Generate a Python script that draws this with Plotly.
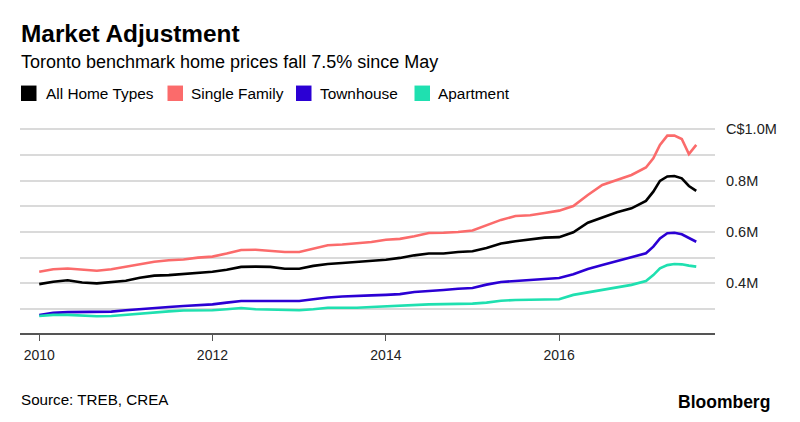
import plotly.graph_objects as go

# ---- data (C$ millions) ----
dates = [
    "2010-01-01", "2010-03-01", "2010-05-01", "2010-07-01", "2010-09-01", "2010-11-01",
    "2011-01-01", "2011-03-01", "2011-05-01", "2011-07-01", "2011-09-01", "2011-11-01",
    "2012-01-01", "2012-03-01", "2012-05-01", "2012-07-01", "2012-09-01", "2012-11-01",
    "2013-01-01", "2013-03-01", "2013-05-01", "2013-07-01", "2013-09-01", "2013-11-01",
    "2014-01-01", "2014-03-01", "2014-05-01", "2014-07-01", "2014-09-01", "2014-11-01",
    "2015-01-01", "2015-03-01", "2015-05-01", "2015-07-01", "2015-09-01", "2015-11-01",
    "2016-01-01", "2016-03-01", "2016-05-01", "2016-07-01", "2016-09-01", "2016-11-01",
    "2017-01-01", "2017-02-01", "2017-03-01", "2017-04-01", "2017-05-01", "2017-06-01",
    "2017-07-01", "2017-08-01",
]

all_home_types = [
    0.397, 0.406, 0.412, 0.403, 0.400, 0.404,
    0.410, 0.422, 0.430, 0.432, 0.436, 0.440,
    0.445, 0.453, 0.464, 0.465, 0.464, 0.457,
    0.457, 0.468, 0.475, 0.479, 0.483, 0.488,
    0.492, 0.499, 0.509, 0.516, 0.516, 0.522,
    0.525, 0.538, 0.555, 0.564, 0.571, 0.578,
    0.580, 0.599, 0.636, 0.656, 0.677, 0.692,
    0.721, 0.757, 0.799, 0.816, 0.818, 0.809,
    0.779, 0.760,
]

single_family = [
    0.445, 0.455, 0.458, 0.453, 0.449, 0.455,
    0.465, 0.476, 0.484, 0.490, 0.493, 0.500,
    0.504, 0.516, 0.530, 0.531, 0.527, 0.522,
    0.522, 0.535, 0.548, 0.551, 0.555, 0.561,
    0.570, 0.573, 0.583, 0.596, 0.597, 0.600,
    0.606, 0.626, 0.647, 0.662, 0.665, 0.674,
    0.683, 0.701, 0.744, 0.783, 0.803, 0.822,
    0.851, 0.887, 0.939, 0.975, 0.975, 0.962,
    0.903, 0.939,
]

townhouse = [
    0.277, 0.285, 0.288, 0.288, 0.290, 0.290,
    0.295, 0.300, 0.304, 0.308, 0.312, 0.315,
    0.318, 0.325, 0.331, 0.331, 0.331, 0.331,
    0.331, 0.338, 0.345, 0.349, 0.350, 0.353,
    0.355, 0.358, 0.366, 0.369, 0.374, 0.379,
    0.382, 0.395, 0.405, 0.409, 0.413, 0.416,
    0.421, 0.435, 0.456, 0.471, 0.487, 0.500,
    0.517, 0.543, 0.575, 0.595, 0.597, 0.591,
    0.578, 0.562,
]

apartment = [
    0.273, 0.277, 0.277, 0.274, 0.272, 0.273,
    0.278, 0.282, 0.287, 0.291, 0.294, 0.295,
    0.295, 0.299, 0.304, 0.299, 0.297, 0.297,
    0.295, 0.299, 0.305, 0.305, 0.305, 0.308,
    0.311, 0.314, 0.317, 0.318, 0.319, 0.319,
    0.321, 0.325, 0.332, 0.335, 0.336, 0.338,
    0.338, 0.355, 0.365, 0.374, 0.383, 0.394,
    0.409, 0.432, 0.458, 0.471, 0.475, 0.474,
    0.469, 0.465,
]

series_names = ["All Home Types", "Single Family", "Townhouse", "Apartment"]
series_values = [all_home_types, single_family, townhouse, apartment]
series_colors = ["#000000", "#fb6b6b", "#2b00d4", "#1fe0b0"]

y_tickvals = [0.3, 0.4, 0.5, 0.6, 0.7, 0.8, 0.9, 1.0]
y_ticktext = ["", "0.4M", "", "0.6M", "", "0.8M", "", "C$1.0M"]
x_tickvals = ["2010-01-01", "2012-01-01", "2014-01-01", "2016-01-01"]
x_ticktext = ["2010", "2012", "2014", "2016"]

FONT = "Liberation Sans, Arial, Helvetica, sans-serif"

# ---- figure geometry (pixels) ----
W, H = 800, 422
ML, MR, MT, MB = 20, 85, 120, 88.7
PW, PH = W - ML - MR, H - MT - MB


def px(x):
    return (x - ML) / PW


def py(y):
    return (H - MB - y) / PH


fig = go.Figure()
for name, vals, col in zip(series_names, series_values, series_colors):
    fig.add_trace(go.Scatter(
        x=dates, y=vals, name=name, mode="lines",
        line=dict(color=col, width=2.6), showlegend=False,
        hovertemplate="%{x|%b %Y}: %{y:.3f}M<extra>" + name + "</extra>",
    ))

annotations = [
    dict(text="<b>Market Adjustment</b>", x=px(19), y=py(33), xanchor="left",
         yanchor="middle", font=dict(size=24.4, color="#000")),
    dict(text="Toronto benchmark home prices fall 7.5% since May", x=px(19), y=py(62),
         xanchor="left", yanchor="middle", font=dict(size=18, color="#000")),
    dict(text="Source: TREB, CREA", x=px(19), y=py(400), xanchor="left",
         yanchor="middle", font=dict(size=15.2, color="#000")),
    dict(text="<b>Bloomberg</b>", x=px(772), y=py(402), xanchor="right",
         yanchor="middle", font=dict(size=17.5, color="#000")),
]

shapes = []
legend_sq_x = [21, 167.5, 296, 414.5]
legend_txt_x = [46, 190.5, 320, 437.5]
for name, col, sx, tx in zip(series_names, series_colors, legend_sq_x, legend_txt_x):
    shapes.append(dict(type="rect", xref="paper", yref="paper",
                       x0=px(sx), x1=px(sx + 15.5), y0=py(101), y1=py(85.5),
                       fillcolor=col, line=dict(width=0)))
    annotations.append(dict(text=name, x=px(tx - 2), y=py(93.5), xanchor="left",
                            yanchor="middle", font=dict(size=15.4, color="#000")))

for a in annotations:
    a.update(xref="paper", yref="paper", showarrow=False)

fig.update_layout(
    width=W, height=H,
    margin=dict(l=ML, r=MR, t=MT, b=MB, pad=0),
    paper_bgcolor="#ffffff", plot_bgcolor="#ffffff",
    font=dict(family=FONT, color="#000"),
    annotations=annotations, shapes=shapes,
    showlegend=False,
    xaxis=dict(
        type="date", range=["2009-10-12", "2017-10-19"],
        tickvals=x_tickvals, ticktext=x_ticktext,
        showgrid=False, zeroline=False,
        showline=True, linecolor="#555555", linewidth=1.5,
        ticks="outside", ticklen=6, tickwidth=1.2, tickcolor="#555555",
        tickfont=dict(size=14, color="#222"),
        ticklabelstandoff=2,
        fixedrange=True,
    ),
    yaxis=dict(
        side="right", range=[0.2066, 1.036],
        tickvals=y_tickvals, ticktext=y_ticktext,
        showgrid=True, gridcolor="#dadada", gridwidth=1.6,
        zeroline=False, showline=False, ticks="",
        ticklabelstandoff=10,
        tickfont=dict(size=14.5, color="#222"),
        fixedrange=True,
    ),
)

fig.write_html("out.html", config={"displayModeBar": False},
               post_script="document.body.style.margin='0';")
